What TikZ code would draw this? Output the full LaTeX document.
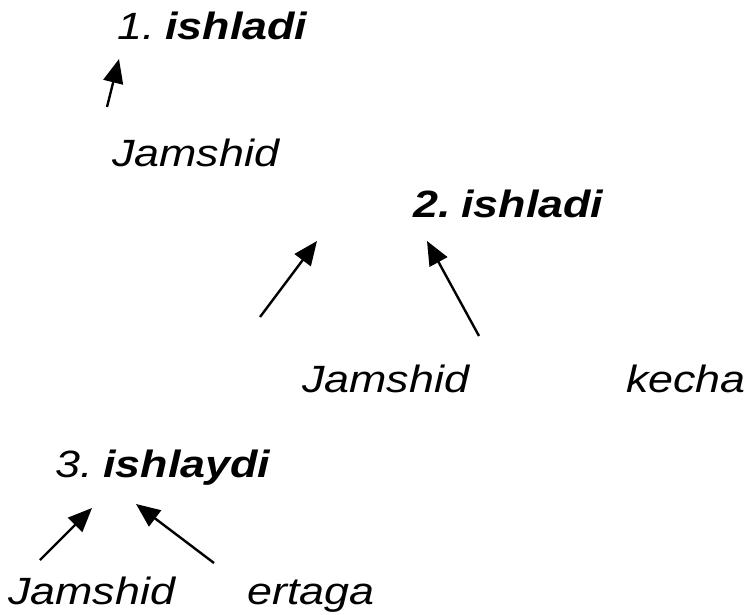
\documentclass[tikz,border=0pt]{standalone}
\usepackage{fontspec}
\setmainfont{Liberation Sans}[FakeStretch=1.18]
\usetikzlibrary{arrows.meta}
\begin{document}
\begin{tikzpicture}[x=1pt,y=1pt,
  word/.style={anchor=base west,inner sep=0pt,font=\fontsize{38}{40}\selectfont\itshape},
  link/.style={line width=2.4pt,-{Triangle[length=24pt,width=20pt]}}]
\useasboundingbox (0,0) rectangle (749,614);

% tree 1
\node[word] (v1) at (117,574) {1.\hspace{0.28em}\bfseries ishladi};
\node[word] (s1) at (112,447) {Jamshid};
\coordinate (t1a) at (107,507);
\coordinate (h1a) at (119,555);
\draw[link] (t1a) -- (h1a);

% tree 2
\node[word] (v2) at (413,396) {\bfseries 2.\hspace{0.28em}ishladi};
\node[word] (s2) at (302,222) {Jamshid};
\node[word] (k2) at (626,222) {kecha};
\coordinate (t2a) at (260,297);
\coordinate (h2a) at (317,373);
\coordinate (t2b) at (479,278);
\coordinate (h2b) at (427,373);
\draw[link] (t2a) -- (h2a);
\draw[link] (t2b) -- (h2b);

% tree 3
\node[word] (v3) at (55,137) {3.\hspace{0.28em}\bfseries ishlaydi};
\node[word] (s3) at (8,10) {Jamshid};
\node[word] (e3) at (247,10) {ertaga};
\coordinate (t3a) at (40,54);
\coordinate (h3a) at (92,106);
\coordinate (t3b) at (214,51);
\coordinate (h3b) at (136,110);
\draw[link] (t3a) -- (h3a);
\draw[link] (t3b) -- (h3b);
\end{tikzpicture}
\end{document}
